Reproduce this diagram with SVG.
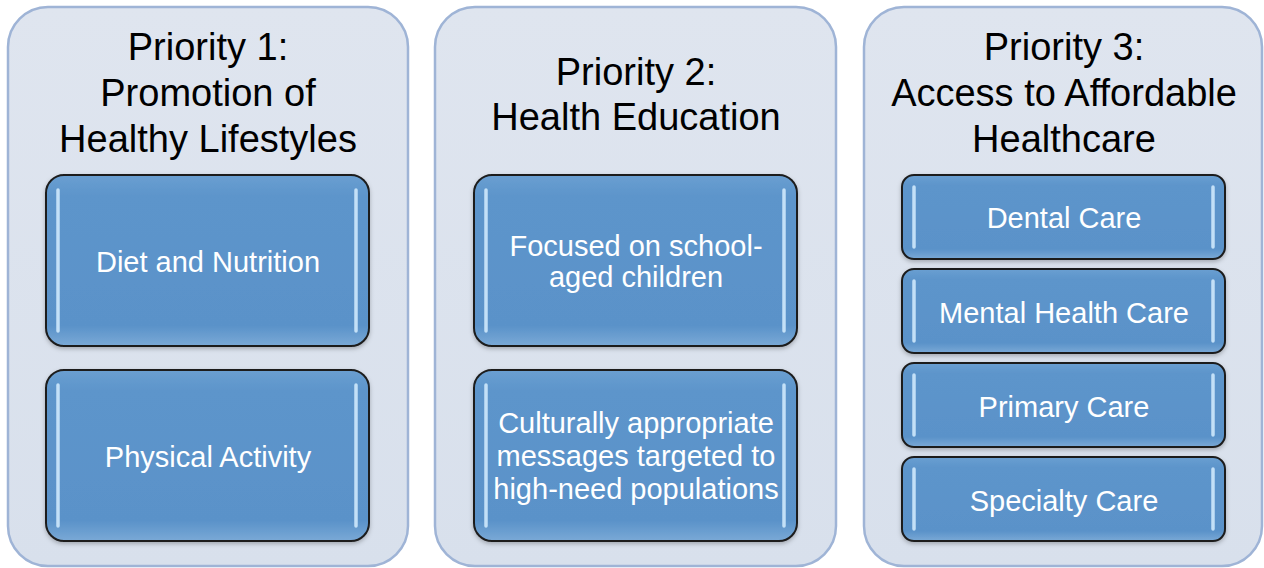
<svg xmlns="http://www.w3.org/2000/svg" width="1264" height="568" viewBox="0 0 1264 568">
<defs>
<linearGradient id="panelG" x1="0" y1="0" x2="0" y2="1">
<stop offset="0" stop-color="#dfe5ef"/>
<stop offset="1" stop-color="#d8e0ec"/>
</linearGradient>
<linearGradient id="boxG" x1="0" y1="0" x2="0" y2="1">
<stop offset="0" stop-color="#6a9fd1"/>
<stop offset="0.12" stop-color="#5d95cb"/>
<stop offset="0.88" stop-color="#5a92c9"/>
<stop offset="1" stop-color="#7aa9d6"/>
</linearGradient>
<filter id="sh" x="-5%" y="-5%" width="110%" height="115%">
<feDropShadow dx="0" dy="2" stdDeviation="2" flood-color="#000" flood-opacity="0.25"/>
</filter>
</defs>
<style>
.panel{fill:url(#panelG);stroke:#9fb4d6;stroke-width:2.5}
.box{fill:url(#boxG);stroke:#1c1c1c;stroke-width:2;filter:url(#sh)}
.hl{stroke:#cfe9fc;stroke-width:3.5;stroke-linecap:round;opacity:0.9}
.title{font-family:"Liberation Sans",Arial,sans-serif;font-size:38px;fill:#000;text-anchor:middle}
.lbl{font-family:"Liberation Sans",Arial,sans-serif;font-size:29px;fill:#fff;text-anchor:middle}
</style>
<rect width="1264" height="568" fill="#ffffff"/>

<g id="panel1">
<rect class="panel" x="8" y="7" width="400" height="559" rx="40"/>
<text class="title" x="208" y="60">Priority 1:</text>
<text class="title" x="208" y="106">Promotion of</text>
<text class="title" x="208" y="152">Healthy Lifestyles</text>
</g>
<g id="p1-diet">
<rect class="box" x="46" y="175" width="323" height="171" rx="18"/>
<line class="hl" x1="58" y1="190" x2="58" y2="331"/><line class="hl" x1="356" y1="190" x2="356" y2="331"/>
<text class="lbl" x="208" y="272">Diet and Nutrition</text>
</g>
<g id="p1-activity">
<rect class="box" x="46" y="370" width="323" height="171" rx="18"/>
<line class="hl" x1="58" y1="385" x2="58" y2="526"/><line class="hl" x1="356" y1="385" x2="356" y2="526"/>
<text class="lbl" x="208" y="467">Physical Activity</text>
</g>

<g id="panel2">
<rect class="panel" x="435" y="7" width="401" height="559" rx="40"/>
<text class="title" x="636" y="85">Priority 2:</text>
<text class="title" x="636" y="130">Health Education</text>
</g>
<g id="p2-school">
<rect class="box" x="474" y="175" width="323" height="171" rx="18"/>
<line class="hl" x1="486" y1="190" x2="486" y2="331"/><line class="hl" x1="784" y1="190" x2="784" y2="331"/>
<text class="lbl" x="636" y="256">Focused on school-</text>
<text class="lbl" x="636" y="287">aged children</text>
</g>
<g id="p2-cultural">
<rect class="box" x="474" y="370" width="323" height="171" rx="18"/>
<line class="hl" x1="486" y1="385" x2="486" y2="526"/><line class="hl" x1="784" y1="385" x2="784" y2="526"/>
<text class="lbl" x="636" y="433">Culturally appropriate</text>
<text class="lbl" x="636" y="466">messages targeted to</text>
<text class="lbl" x="636" y="499">high-need populations</text>
</g>

<g id="panel3">
<rect class="panel" x="864" y="7" width="398" height="559" rx="40"/>
<text class="title" x="1064" y="60">Priority 3:</text>
<text class="title" x="1064" y="106">Access to Affordable</text>
<text class="title" x="1064" y="152">Healthcare</text>
</g>
<g id="p3-dental">
<rect class="box" x="902" y="175" width="323" height="84" rx="12"/>
<line class="hl" x1="914" y1="187" x2="914" y2="247"/><line class="hl" x1="1213" y1="187" x2="1213" y2="247"/>
<text class="lbl" x="1064" y="228">Dental Care</text>
</g>
<g id="p3-mental">
<rect class="box" x="902" y="269" width="323" height="84" rx="12"/>
<line class="hl" x1="914" y1="281" x2="914" y2="341"/><line class="hl" x1="1213" y1="281" x2="1213" y2="341"/>
<text class="lbl" x="1064" y="323">Mental Health Care</text>
</g>
<g id="p3-primary">
<rect class="box" x="902" y="363" width="323" height="84" rx="12"/>
<line class="hl" x1="914" y1="375" x2="914" y2="435"/><line class="hl" x1="1213" y1="375" x2="1213" y2="435"/>
<text class="lbl" x="1064" y="417">Primary Care</text>
</g>
<g id="p3-specialty">
<rect class="box" x="902" y="457" width="323" height="84" rx="12"/>
<line class="hl" x1="914" y1="469" x2="914" y2="529"/><line class="hl" x1="1213" y1="469" x2="1213" y2="529"/>
<text class="lbl" x="1064" y="511">Specialty Care</text>
</g>
<g id="connectors"/>
</svg>
